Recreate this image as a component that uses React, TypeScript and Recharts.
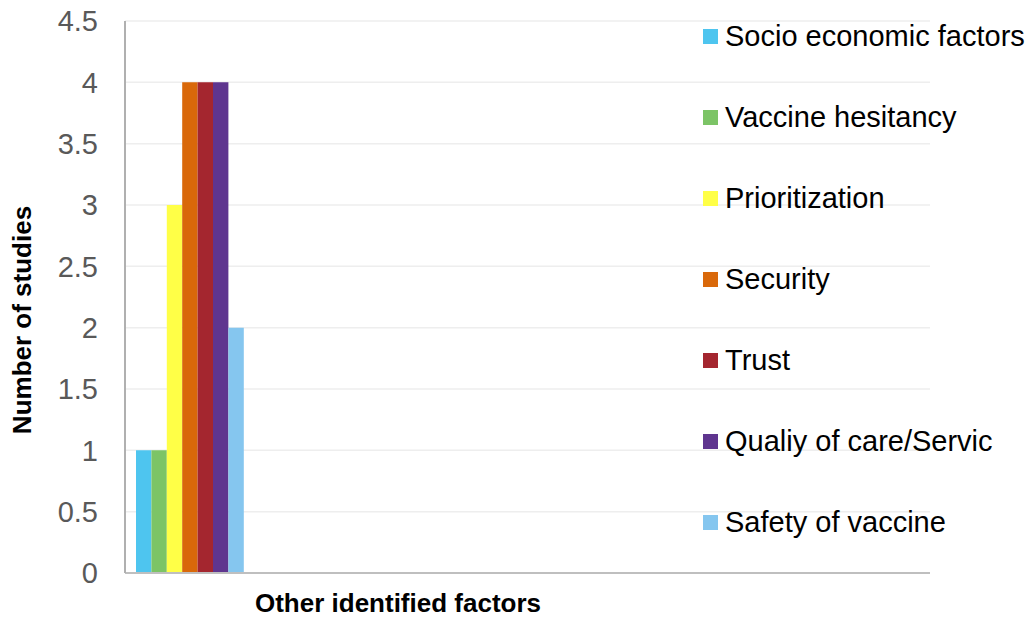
import React from "react";
import { BarChart, Bar, XAxis, YAxis, CartesianGrid, Legend } from "recharts";

const categories = ["Other identified factors"];
const seriesNames = [
  "Socio economic factors",
  "Vaccine hesitancy",
  "Prioritization",
  "Security",
  "Trust",
  "Qualiy of care/Servic",
  "Safety of vaccine",
];
const seriesValues = [1, 1, 3, 4, 4, 4, 2];
const seriesColors = ["#4ec5ef", "#7cc466", "#ffff47", "#d9680a", "#a4262f", "#5f358f", "#85c6ef"];
const yTicks = [0, 0.5, 1, 1.5, 2, 2.5, 3, 3.5, 4, 4.5];

const keys = seriesNames.map((_, i) => `s${i}`);
const data = categories.map((c) => {
  const row: Record<string, any> = { name: c };
  keys.forEach((k, i) => {
    row[k] = seriesValues[i];
  });
  return row;
});

const FONT = '"Liberation Sans", Arial, sans-serif';

const renderLegend = () => (
  <div style={{ fontFamily: FONT }}>
    {seriesNames.map((n, i) => (
      <div key={n} style={{ height: 81, display: "flex", alignItems: "center", whiteSpace: "nowrap" }}>
        <div style={{ width: 15, height: 15, background: seriesColors[i], marginRight: 7, flex: "none" }} />
        <span style={{ fontSize: 29, color: "#000", lineHeight: "33px" }}>{n}</span>
      </div>
    ))}
  </div>
);

export default function App() {
  return (
    <div style={{ position: "absolute", left: 0, top: 0, fontFamily: FONT }}>
      <BarChart
        width={1030}
        height={617}
        data={data}
        margin={{ top: 21, right: 100, bottom: 0, left: 0 }}
        barSize={15.4}
        barGap={0}
      >
        <CartesianGrid vertical={false} stroke="#eeeeee" strokeWidth={1.5} />
        <XAxis
          dataKey="name"
          height={44}
          tick={false}
          tickLine={false}
          padding={{ left: 0, right: 675 }}
          axisLine={{ stroke: "#bfbfbf", strokeWidth: 2 }}
          label={{
            value: "Other identified factors",
            position: "center",
            dx: -129.5,
            dy: 8,
            style: { fontSize: 26, fontWeight: "bold", fill: "#000", fontFamily: FONT },
          }}
        />
        <YAxis
          width={125}
          domain={[0, 4.5]}
          ticks={yTicks}
          tickSize={0}
          tickMargin={27}
          tickLine={false}
          axisLine={{ stroke: "#b0b0b0", strokeWidth: 2 }}
          tick={{ fontSize: 29, fill: "#595959", fontFamily: FONT }}
          label={{
            value: "Number of studies",
            angle: -90,
            position: "center",
            dx: -40.5,
            dy: 23,
            style: { fontSize: 26, fontWeight: "bold", fill: "#000", fontFamily: FONT },
          }}
        />
        <Legend
          layout="vertical"
          align="center"
          verticalAlign="middle"
          content={renderLegend}
          wrapperStyle={{ position: "absolute", left: 703, top: -4.5, width: 327, margin: 0 }}
        />
        {keys.map((k, i) => (
          <Bar key={k} dataKey={k} name={seriesNames[i]} fill={seriesColors[i]} isAnimationActive={false} />
        ))}
      </BarChart>
    </div>
  );
}
